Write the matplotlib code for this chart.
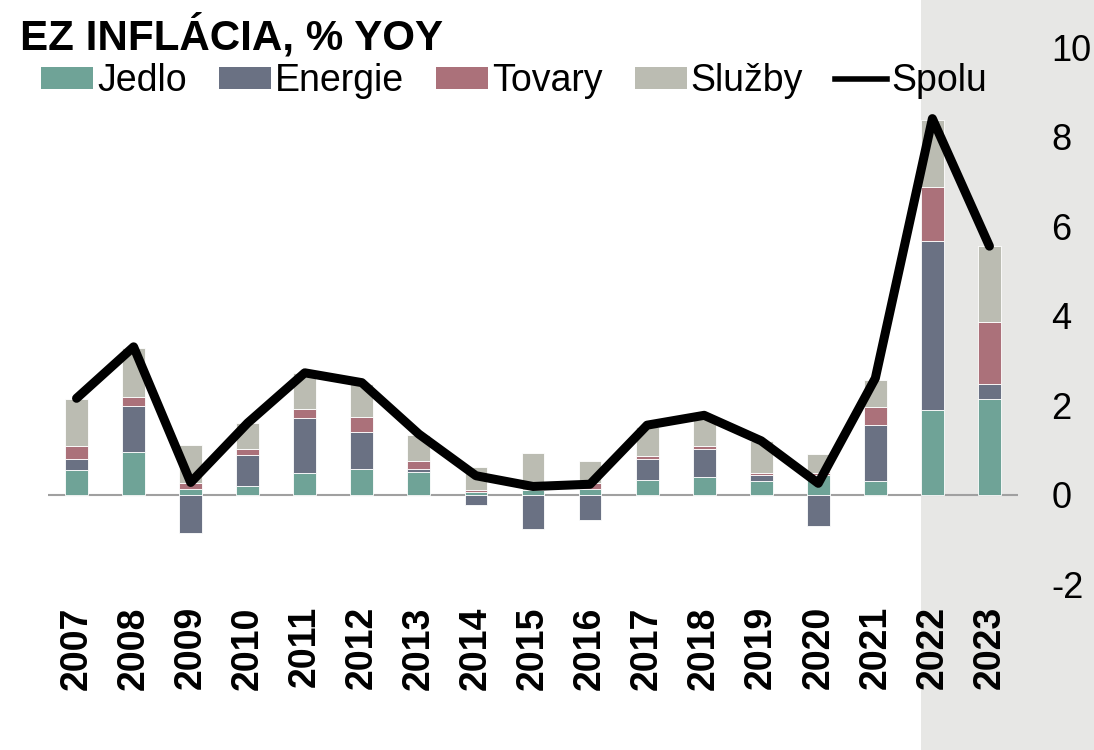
import numpy as np
import matplotlib
matplotlib.use("Agg")
import matplotlib.pyplot as plt
import matplotlib.transforms as mtransforms
from matplotlib.patches import Rectangle
from matplotlib.lines import Line2D

plt.rcParams["font.family"] = ["Liberation Sans", "DejaVu Sans"]
plt.rcParams["axes.unicode_minus"] = False

years = [str(y) for y in range(2007, 2024)]
jedlo = [0.54, 0.96, 0.12, 0.18, 0.49, 0.57, 0.50, 0.05, 0.09, 0.13, 0.33, 0.40, 0.31, 0.43, 0.31, 1.88, 2.14]
energie = [0.25, 1.02, -0.85, 0.70, 1.21, 0.83, 0.07, -0.23, -0.77, -0.56, 0.46, 0.62, 0.12, -0.70, 1.24, 3.79, 0.33]
tovary = [0.29, 0.20, 0.13, 0.14, 0.21, 0.33, 0.18, 0.04, 0.02, 0.12, 0.08, 0.06, 0.06, 0.04, 0.40, 1.21, 1.39]
sluzby = [1.05, 1.10, 0.85, 0.58, 0.80, 0.75, 0.58, 0.52, 0.81, 0.49, 0.65, 0.65, 0.70, 0.44, 0.62, 1.50, 1.70]
spolu = [2.15, 3.30, 0.27, 1.60, 2.72, 2.50, 1.35, 0.42, 0.18, 0.23, 1.55, 1.77, 1.20, 0.25, 2.60, 8.40, 5.55]

series = [
    ("Jedlo", jedlo, "#6fa397"),
    ("Energie", energie, "#6a7183"),
    ("Tovary", tovary, "#ab717a"),
    ("Služby", sluzby, "#bbbcb2"),
]
highlight_from = "2022"

fig = plt.figure(figsize=(10.94, 7.5), dpi=100)
ax = fig.add_axes([0.0439, 0.2213, 0.8866, 0.716])
ax.set_facecolor("none")

x = np.arange(len(years))
bar_w = 0.4

# grey band behind the latest years, running over the full figure height
band = mtransforms.blended_transform_factory(ax.transData, fig.transFigure)
start = years.index(highlight_from) - bar_w / 2
fig.patches.append(Rectangle((start, 0), 10, 1, transform=band,
                             facecolor="#e7e7e5", edgecolor="none",
                             zorder=-10))

pos_bottom = np.zeros(len(years))
neg_bottom = np.zeros(len(years))
handles = []
for name, vals, color in series:
    vals = np.array(vals)
    bottom = np.where(vals >= 0, pos_bottom, neg_bottom)
    ax.bar(x, vals, bar_w, bottom=bottom, color=color,
           edgecolor="white", linewidth=0.6, zorder=2)
    pos_bottom += np.where(vals >= 0, vals, 0)
    neg_bottom += np.where(vals < 0, vals, 0)
    handles.append(Rectangle((0, 0), 1, 1, facecolor=color, edgecolor="none", label=name))

ax.plot(x, spolu, color="black", linewidth=6.5, solid_capstyle="round", zorder=3)
handles.append(Line2D([], [], color="black", linewidth=4, label="Spolu"))

ax.axhline(0, color="#a0a0a0", linewidth=1.5, zorder=1)

ax.set_xlim(-0.5, len(years) - 0.5)
ax.set_ylim(-2, 10)
ax.set_yticks(np.arange(-2, 11, 2))
ax.yaxis.tick_right()
ax.tick_params(axis="y", length=0, pad=24, labelsize=26)
ax.set_xticks(x)
ax.set_xticklabels(years, rotation=90, fontweight="bold", fontsize=27)
ax.tick_params(axis="x", length=0, pad=16)
for s in ax.spines.values():
    s.set_visible(False)

fig.text(0.0183, 1 - 50 / 750, "EZ INFLÁCIA, % YOY", fontsize=30.3,
         fontweight="bold", va="baseline", ha="left")

fig.legend(handles=handles, loc="center left", bbox_to_anchor=(0.0375, 0.892),
           ncol=5, frameon=False, fontsize=27, handlelength=1.39,
           handleheight=0.51, handletextpad=0.1, columnspacing=0.86,
           borderpad=0, borderaxespad=0)

fig.savefig("out.png", dpi=100)
